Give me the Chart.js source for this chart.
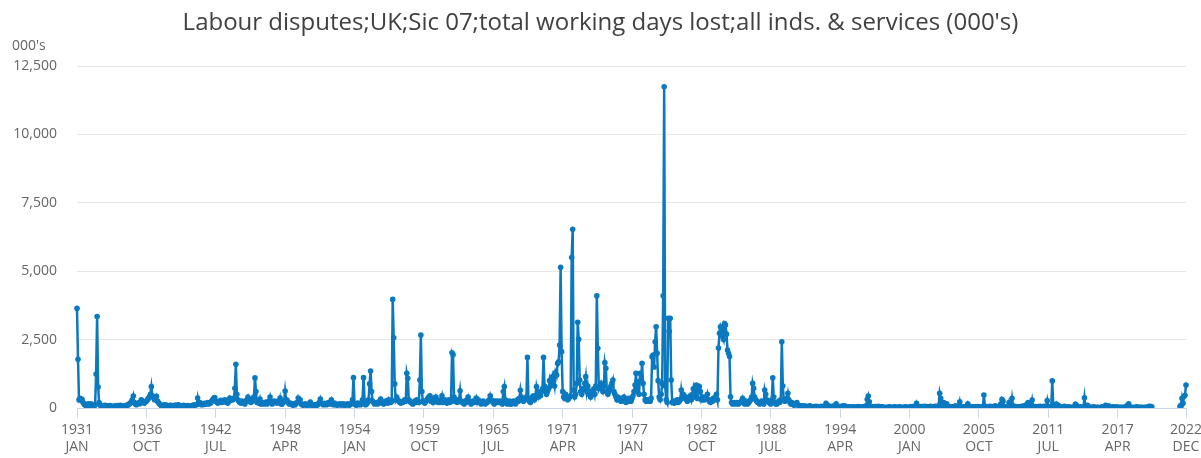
<!DOCTYPE html>
<html>
<head>
<meta charset="utf-8">
<script src="https://cdn.jsdelivr.net/npm/chart.js@4/dist/chart.umd.min.js"></script>
<style>
  body { margin: 0; background: #fff; }
  #wrap { width: 1201px; height: 458px; }
</style>
</head>
<body>
<div id="wrap"><canvas id="chart" width="1201" height="458"></canvas></div>
<script>
// working days lost, thousands, monthly Jan 1931 .. Dec 2022
var years = []
for (var y = 1931; y <= 2022; y++) years.push(y)
var monthNames = ['JAN','FEB','MAR','APR','MAY','JUN','JUL','AUG','SEP','OCT','NOV','DEC']

var tickYears  = ['1931','1936','1942','1948','1954','1959','1965','1971','1977','1982','1988','1994','2000','2005','2011','2017','2022']
var tickMonths = ['JAN','OCT','JUL','APR','JAN','OCT','JUL','APR','JAN','OCT','JUL','APR','JAN','OCT','JUL','APR','DEC']

var days1930s = [
  3640,1780,300,350,280,320,200,150,100,120,90,150,      // 1931
  120,100,150,90,110,80,100,1240,3340,770,200,100,       // 1932
  80,60,90,70,100,60,80,50,70,90,60,40,                  // 1933
  50,70,60,80,90,70,60,100,70,80,50,60,                  // 1934
  80,100,90,120,150,170,230,300,440,200,150,120,         // 1935
  150,180,200,160,300,250,200,180,220,250,300,350,       // 1936
  400,500,780,450,380,300,350,430,250,200,150,120,       // 1937
  80,100,70,120,90,110,80,60,90,100,70,80,               // 1938
  90,70,110,80,100,120,90,60,40,70,100,80                // 1939
]
var days1940s = [
  60,80,90,50,70,60,80,100,90,120,110,130,
  365,150,200,180,120,150,130,170,140,160,200,150,
  200,180,250,300,360,380,250,220,180,200,250,280,
  200,250,220,300,270,200,180,250,365,280,320,300,
  350,720,1600,500,300,250,200,180,250,200,180,150,
  250,300,400,250,300,200,250,350,400,1100,600,200,
  200,180,330,150,200,170,150,180,220,150,200,250,
  400,200,150,180,250,200,220,180,250,200,365,150,
  150,200,250,620,300,280,200,150,180,150,120,100,
  150,120,180,200,365,250,300,150,120,100,130,150
]
var days1950s = [
  100,80,120,150,220,100,80,120,90,110,130,100,
  150,200,330,180,150,120,170,140,120,160,200,150,
  200,300,150,120,180,130,120,100,140,120,150,110,
  120,150,100,130,110,150,120,100,140,170,300,1110,
  150,120,100,180,130,150,120,200,300,1110,250,120,
  150,200,300,880,1350,600,250,200,150,180,200,150,
  200,250,330,180,200,150,220,250,200,180,300,200,
  200,250,3970,2570,880,300,400,300,250,200,180,220,
  200,250,300,250,1270,1085,300,250,200,180,150,200,
  250,200,300,250,200,1020,2670,600,250,200,180,250
]
var days1960s = [
  300,350,400,450,250,300,200,350,250,400,300,200,
  250,200,300,450,200,250,300,200,180,250,300,200,
  250,2020,1950,400,250,300,200,250,300,630,250,200,
  200,150,250,200,300,400,250,200,150,200,250,200,
  250,365,200,300,250,200,150,200,250,200,150,200,
  200,250,300,450,300,250,200,150,250,200,250,200,
  200,250,200,150,600,780,300,200,150,200,250,150,
  150,200,250,200,150,200,300,250,350,650,400,300,
  250,300,350,400,1850,300,250,200,350,400,450,300,
  400,780,600,400,500,450,600,700,1850,800,600,500
]
var days1970s = [
  600,700,1000,800,900,1150,1000,800,1300,1200,1630,1690,
  2300,5140,2060,600,400,350,500,400,300,350,400,450,
  5500,6530,650,400,500,900,3130,2510,1020,600,500,700,
  700,900,1145,600,800,500,600,400,500,600,700,500,
  800,4100,2180,700,800,900,700,600,800,1657,1450,600,
  500,600,700,800,900,1023,600,500,400,300,400,350,
  300,250,350,300,400,250,200,300,250,350,300,250,
  350,450,600,840,1267,600,960,500,1267,1000,1633,900,
  500,300,250,300,250,300,250,350,1876,1937,1500,2424,
  2970,2000,1000,400,300,500,900,4100,11740,800,300,200
]
var days1980s = [
  3280,2800,3280,1020,200,250,180,200,250,300,200,250,
  300,660,400,500,450,350,300,250,300,400,450,300,
  500,700,400,450,840,350,700,780,600,300,400,300,
  300,400,350,500,300,250,200,300,250,350,300,400,
  500,300,2190,2730,2970,2850,2610,2500,3090,3030,2700,2120,
  2000,1880,413,200,150,180,200,150,200,180,150,200,
  200,250,355,200,150,250,180,150,200,250,300,400,
  900,720,400,300,250,200,180,150,200,250,200,150,
  660,500,300,250,200,180,150,300,1108,400,200,150,
  150,200,250,200,300,2424,800,300,250,300,350,540
]
var days1990s = [
  300,200,150,200,150,100,120,150,200,100,90,80,
  70,60,80,50,70,60,40,50,60,80,50,40,
  40,50,30,60,40,50,30,40,50,60,40,30,
  50,170,100,80,60,50,40,60,50,70,60,150,
  40,30,50,40,60,50,70,80,60,50,40,30,
  30,40,20,30,40,30,20,30,40,50,30,20,
  30,40,30,50,60,70,318,440,230,60,40,30,
  40,30,50,40,30,60,40,30,20,40,30,20,
  20,30,20,30,40,20,30,20,30,40,20,30,
  30,20,40,30,20,30,20,30,40,30,20,30
]
var days2000s = [
  30,40,30,50,40,30,40,170,60,40,30,50,
  40,50,30,60,40,50,30,40,30,60,40,30,
  40,60,50,40,60,80,536,355,60,80,200,150,
  100,150,60,40,50,40,30,40,50,60,80,40,
  40,50,230,40,30,50,40,30,40,50,150,40,
  30,40,50,40,30,40,30,40,50,40,30,20,
  40,50,475,60,40,50,30,40,60,50,40,30,
  30,80,50,40,30,60,100,150,317,250,40,30,
  30,40,50,200,40,60,355,80,40,50,30,40,
  40,30,50,40,60,50,80,60,70,150,200,50
]
var days2010s = [
  60,80,290,60,40,50,30,40,50,40,60,30,
  40,50,60,40,50,268,40,30,50,60,990,40,
  30,40,146,40,100,30,20,30,40,30,60,20,
  20,30,40,30,20,30,20,30,40,146,100,30,
  30,20,40,30,20,30,377,40,30,100,20,30,
  20,30,20,40,30,20,30,20,30,20,20,30,
  40,20,30,100,30,40,80,20,30,20,30,40,
  30,20,40,20,30,20,30,20,30,20,30,40,
  20,110,150,30,20,30,20,20,30,20,40,30,
  20,30,20,30,20,20,30,20,30,20,50,60
]
var days2020s = [
  50,40,null,null,null,null,null,null,null,null,null,null,
  null,null,null,null,null,null,null,null,null,null,null,null,
  null,null,null,null,null,50,100,356,170,417,467,843
]

var daysLost = [].concat(days1930s, days1940s, days1950s, days1960s, days1970s,
  days1980s, days1990s, days2000s, days2010s, days2020s)

var labels = []
years.forEach(function (yr) {
  monthNames.forEach(function (m) { labels.push(yr + ' ' + m) })
})
var tickLabels = tickYears.map(function (yr, i) { return yr + ' ' + tickMonths[i] })

var blue = '#0b79c0'

var unitLabel = {
  id: 'unitLabel',
  afterDraw: function (chart) {
    var ctx = chart.ctx
    ctx.save()
    ctx.font = '14px "Open Sans"'
    ctx.fillStyle = '#666'
    ctx.textBaseline = 'middle'
    ctx.fillText("000's", 12, 46)
    ctx.restore()
  }
}

var ctx = document.getElementById('chart').getContext('2d')
var myChart = new Chart(ctx, {
  type: 'line',
  data: {
    labels: labels,
    datasets: [{
      label: 'working days lost',
      data: daysLost,
      borderColor: blue,
      backgroundColor: blue,
      pointBackgroundColor: blue,
      pointBorderColor: blue,
      borderWidth: 2.5,
      pointRadius: 2.8,
      pointBorderWidth: 0,
      tension: 0,
      fill: false,
      spanGaps: false
    }]
  },
  options: {
    responsive: false,
    animation: false,
    devicePixelRatio: 1,
    layout: { padding: { left: 0, right: 0, top: 0, bottom: 0 } },
    plugins: {
      legend: { display: false },
      tooltip: { enabled: false },
      title: {
        display: true,
        text: "Labour disputes;UK;Sic 07;total working days lost;all inds. & services (000's)",
        color: '#414042',
        font: { family: 'Open Sans', size: 24, weight: 'normal' },
        padding: { top: 9, bottom: 28.2 }
      }
    },
    scales: {
      x: {
        type: 'category',
        offset: false,
        afterBuildTicks: function (axis) {
          var keep = []
          labels.forEach(function (l, i) {
            if (tickLabels.indexOf(l) >= 0) keep.push({ value: i })
          })
          axis.ticks = keep
        },
        afterFit: function (scale) {
          scale.height = 50
          scale.paddingRight = 15
        },
        ticks: {
          autoSkip: false,
          maxRotation: 0,
          minRotation: 0,
          color: '#666',
          padding: 4,
          font: { family: 'Open Sans', size: 14 },
          callback: function (value) { return labels[value].split(' ') }
        },
        grid: { drawOnChartArea: false, drawTicks: true, tickLength: 10, color: '#ccd6eb' },
        border: { display: true, color: '#ccd6eb' }
      },
      y: {
        min: 0,
        max: 12500,
        afterFit: function (scale) { scale.width = 77 },
        ticks: {
          stepSize: 2500,
          color: '#666',
          padding: 20,
          font: { family: 'Open Sans', size: 14 },
          callback: function (v) { return v.toLocaleString('en-GB') }
        },
        grid: { color: '#e6e6e6', drawTicks: false },
        border: { display: false }
      }
    }
  },
  plugins: [unitLabel]
})
</script>
</body>
</html>
